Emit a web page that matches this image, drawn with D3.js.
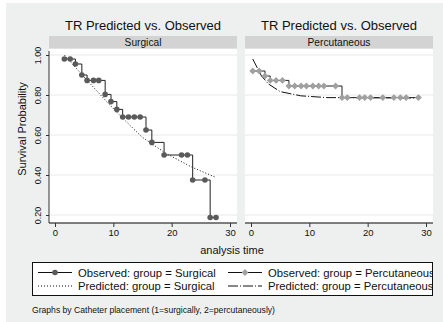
<!DOCTYPE html>
<html>
<head>
<meta charset="utf-8">
<script src="https://cdn.jsdelivr.net/npm/d3@7"></script>
<style>
  body { margin: 0; background: #fff; }
  svg { display: block; font-family: "Liberation Sans", Arial, sans-serif; }
</style>
</head>
<body>
<svg id="chart" width="443" height="322"></svg>
<script>
// Kaplan-Meier observed vs Cox predicted, by catheter placement
const groups = ["Surgical", "Percutaneous"];

const surgTime = [1.6, 2.6, 3.5, 4.6, 5.5, 6.6, 7.5, 8.6, 9.6, 10.6, 11.6, 12.6, 13.6, 14.6, 15.6, 16.6, 18.7, 21.7, 22.7, 23.6, 25.7, 26.6, 27.6];
const surgObs = [0.98, 0.98, 0.955, 0.90, 0.873, 0.873, 0.873, 0.803, 0.767, 0.728, 0.69, 0.69, 0.69, 0.69, 0.625, 0.563, 0.50, 0.50, 0.50, 0.375, 0.375, 0.1875, 0.1875];
const surgPredTime = [1.6, 5.7, 8.6, 11.4, 14.9, 18.9, 23.4, 27.4];
const surgPred = [1.0, 0.867, 0.775, 0.69, 0.59, 0.51, 0.44, 0.39];

const percTime = [0.3, 1.4, 2.4, 3.3, 4.3, 5.4, 6.5, 7.5, 8.6, 9.5, 10.6, 11.6, 12.5, 14.5, 15.6, 16.5, 18.6, 19.5, 20.5, 22.6, 24.5, 25.6, 26.6, 28.7];
const percObs = [0.92, 0.92, 0.895, 0.873, 0.873, 0.873, 0.845, 0.845, 0.845, 0.845, 0.845, 0.845, 0.845, 0.845, 0.787, 0.787, 0.787, 0.787, 0.787, 0.787, 0.787, 0.787, 0.787, 0.787];
const percPredTime = [0.3, 1.8, 3.0, 5.0, 8.5, 13.0, 28.7];
const percPred = [0.98, 0.895, 0.855, 0.817, 0.796, 0.787, 0.785];

const xTicks = [0, 10, 20, 30];
const yTicks = [0.2, 0.4, 0.6, 0.8, 1.0];

const legendLabels = [
  "Observed: group = Surgical", "Observed: group = Percutaneous",
  "Predicted: group = Surgical", "Predicted: group = Percutaneous"
];

const svg = d3.select("#chart");
const BG = "#eeefef";
const FONT = "Liberation Sans, Arial, sans-serif";

svg.append("rect").attr("x", 6).attr("y", 3).attr("width", 437).attr("height", 319).attr("fill", BG);

const y = d3.scaleLinear().domain([0.2, 1.0]).range([215, 55]);
const plotTop = 49, plotBottom = 223;

const panels = [
  { name: groups[0], x0: 49, x1: 237, obsT: surgTime, obsS: surgObs, predT: surgPredTime, predS: surgPred,
    marker: "circle", fill: "#5a5a5a", dash: "1,2", yAxis: true },
  { name: groups[1], x0: 245, x1: 433, obsT: percTime, obsS: percObs, predT: percPredTime, predS: percPred,
    marker: "diamond", fill: "#a0a0a0", dash: "10,2,1,2", yAxis: false }
];

function drawMarker(g, type, fill, cx, cy) {
  if (type === "circle") {
    g.append("circle").attr("cx", cx).attr("cy", cy).attr("r", 2.8).attr("fill", fill);
  } else {
    const r = 3.4;
    g.append("path")
      .attr("d", `M${cx},${cy - r}L${cx + r},${cy}L${cx},${cy + r}L${cx - r},${cy}Z`)
      .attr("fill", fill);
  }
}

panels.forEach(p => {
  const x = d3.scaleLinear().domain([0, 30]).range([p.x0 + 6, p.x0 + 181]);
  const g = svg.append("g");

  // title + strip
  g.append("text").attr("x", (p.x0 + p.x1) / 2).attr("y", 29.5)
    .attr("text-anchor", "middle").attr("font-size", 13).attr("fill", "#111")
    .text("TR Predicted vs. Observed");
  g.append("rect").attr("x", p.x0).attr("y", 36).attr("width", p.x1 - p.x0).attr("height", 12.5)
    .attr("fill", "#d3d3d3");
  g.append("text").attr("x", (p.x0 + p.x1) / 2).attr("y", 45.5)
    .attr("text-anchor", "middle").attr("font-size", 10.2).attr("fill", "#111").text(p.name);

  g.append("rect").attr("x", p.x0).attr("y", plotTop).attr("width", p.x1 - p.x0)
    .attr("height", plotBottom - plotTop).attr("fill", "#fff");

  g.selectAll(".grid").data(yTicks).join("line")
    .attr("x1", p.x0).attr("x2", p.x1)
    .attr("y1", d => y(d)).attr("y2", d => y(d))
    .attr("stroke", "#e6e8e8").attr("stroke-width", 1);

  // x axis
  const xa = g.append("g").attr("transform", `translate(0,${plotBottom})`)
    .call(d3.axisBottom(x).tickValues(xTicks).tickSize(4).tickPadding(2));
  xa.select(".domain").attr("d", `M${p.x0},0H${p.x1}`).attr("stroke", "#555").attr("stroke-width", 1.6);
  xa.selectAll(".tick line").attr("stroke", "#333");
  xa.selectAll(".tick text").attr("font-size", 9.5).attr("font-family", FONT).attr("fill", "#111");

  if (p.yAxis) {
    const ya = g.append("g").attr("transform", `translate(${p.x0},0)`)
      .call(d3.axisLeft(y).tickValues(yTicks).tickFormat(d3.format(".2f")).tickSize(3).tickPadding(0));
    ya.select(".domain").attr("d", `M0,${plotTop + 2}V${plotBottom}`).attr("stroke", "#333");
    ya.selectAll(".tick line").attr("stroke", "#333");
    ya.selectAll(".tick text")
      .attr("font-size", 9).attr("font-family", FONT).attr("fill", "#111")
      .attr("text-anchor", "middle").attr("transform", "rotate(-90)")
      .attr("x", 0).attr("y", -8).attr("dy", 0);
    g.append("text").attr("transform", `translate(26,129) rotate(-90)`)
      .attr("text-anchor", "middle").attr("font-size", 11).attr("fill", "#111").text("Survival Probability");
  }

  const obs = p.obsT.map((t, i) => [t, p.obsS[i]]);
  const pred = p.predT.map((t, i) => [t, p.predS[i]]);

  g.append("path").datum(pred)
    .attr("d", d3.line().x(d => x(d[0])).y(d => y(d[1])))
    .attr("fill", "none").attr("stroke", "#111").attr("stroke-width", 1)
    .attr("stroke-dasharray", p.dash);

  g.append("path").datum(obs)
    .attr("d", d3.line().curve(d3.curveStepAfter).x(d => x(d[0])).y(d => y(d[1])))
    .attr("fill", "none").attr("stroke", "#222").attr("stroke-width", 1);

  obs.forEach(d => drawMarker(g, p.marker, p.fill, x(d[0]), y(d[1])));
});

svg.append("text").attr("x", 232).attr("y", 253.5).attr("text-anchor", "middle")
  .attr("font-size", 11).attr("fill", "#111").text("analysis time");

// legend, text clipped at the box edge like the original
svg.append("defs").append("clipPath").attr("id", "legclip")
  .append("rect").attr("x", 32).attr("y", 262).attr("width", 400).attr("height", 34);

const lg = svg.append("g");
lg.append("rect").attr("x", 32.5).attr("y", 262.5).attr("width", 400).attr("height", 33)
  .attr("fill", "#fff").attr("stroke", "#111").attr("stroke-width", 1);

const legendItems = [
  { col: 0, row: 0, marker: "circle", fill: "#5a5a5a", dash: null },
  { col: 1, row: 0, marker: "diamond", fill: "#a0a0a0", dash: null },
  { col: 0, row: 1, marker: null, dash: "1,2" },
  { col: 1, row: 1, marker: null, dash: "10,2,1,2" }
];
const lgText = lg.append("g").attr("clip-path", "url(#legclip)");
legendItems.forEach((it, i) => {
  const sx = it.col === 0 ? 38 : 228;
  const cy = it.row === 0 ? 272.5 : 286;
  lg.append("line").attr("x1", sx).attr("x2", sx + 34).attr("y1", cy).attr("y2", cy)
    .attr("stroke", "#111").attr("stroke-width", 1).attr("stroke-dasharray", it.dash);
  if (it.marker) drawMarker(lg, it.marker, it.fill, sx + 17, cy);
  lgText.append("text").attr("x", sx + 40).attr("y", cy + 4).attr("font-size", 11.3).attr("fill", "#111")
    .text(legendLabels[i]);
});

svg.append("text").attr("x", 32).attr("y", 313).attr("font-size", 8.6).attr("fill", "#111")
  .text("Graphs by Catheter placement (1=surgically, 2=percutaneously)");
</script>
</body>
</html>
